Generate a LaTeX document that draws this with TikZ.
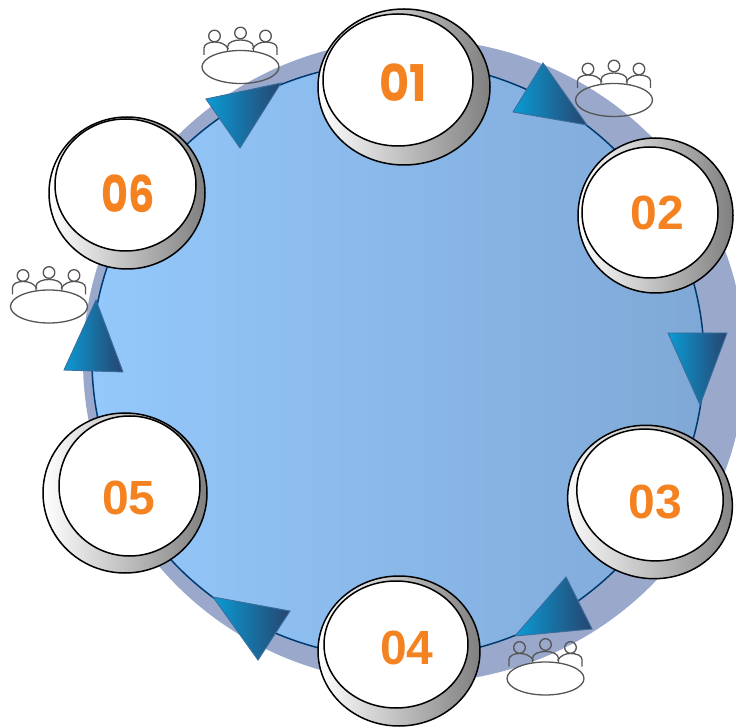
\documentclass[tikz,border=0pt]{standalone}
\usepackage{fontspec}
\setmainfont{Liberation Sans}
\newfontfamily\geofont{Poppins}
\usetikzlibrary{shapes.geometric}
\definecolor{bandblue}{HTML}{9AA9CB}
\definecolor{leftblue}{HTML}{94C8FB}
\definecolor{rightblue}{HTML}{7FA8D6}
\definecolor{ringnavy}{HTML}{003A70}
\definecolor{numorange}{HTML}{F58220}
\definecolor{triA}{HTML}{0A9BD4}
\definecolor{triB}{HTML}{27446F}
\definecolor{triline}{HTML}{3A6E9E}
\definecolor{icongray}{HTML}{555555}
\tikzset{
  rim/.style={draw=black,line width=1.5pt,ellipse,inner sep=0pt,left color=white,right color=black!50},
  face/.style={draw=black,line width=1.5pt,ellipse,inner sep=0pt,fill=white},
  num/.style={text=numorange,font=\bfseries\fontsize{48}{48}\selectfont,inner sep=0pt},
  numgeo/.style={text=numorange,font=\geofont\bfseries\fontsize{46}{46}\selectfont,inner sep=0pt,xscale=0.9,yscale=1.1},
  arrowtri/.style={draw=triline,line width=0.9pt,left color=triA,right color=triB},
  seat/.pic={
    \draw [icongray,line width=1.3pt] (0,0) ellipse (38.5 and 16.5);
    \draw [icongray,line width=1.3pt] (-26,31) circle (5.8);
    \draw [icongray,line width=1.3pt] (0,34) circle (5.8);
    \draw [icongray,line width=1.3pt] (25,31) circle (5.8);
    \draw [icongray,line width=1.3pt] (-36.5,12) -- (-36.5,19) .. controls (-36.5,23) and (-31,25) .. (-26,25) .. controls (-20,25) and (-15,23) .. (-12,18);
    \draw [icongray,line width=1.3pt] (-13,16) -- (-13,20) .. controls (-13,25) and (-6,27) .. (0,27) .. controls (6,27) and (13,25) .. (13,20) -- (13,16);
    \draw [icongray,line width=1.3pt] (12,18) .. controls (15,23) and (20,25) .. (25,25) .. controls (31,25) and (36.5,23) .. (36.5,19) -- (36.5,12);
  }
}
\begin{document}
\begin{tikzpicture}[x=1pt,y=1pt]
\useasboundingbox (0,0) rectangle (736,726);
% ring
\begin{scope}
\clip (0,0) rectangle (736,726);
\fill [bandblue] (414,365) ellipse (331 and 322);
\end{scope}
\path [draw=ringnavy,line width=1.5pt,left color=leftblue,right color=rightblue] (398,366) ellipse (306 and 298);
% triangles
\path [arrowtri] (206,627) -- (281,643) -- (240,578) -- cycle;
\path [arrowtri] (543,663) -- (513,614) -- (587,601) -- cycle;
\path [arrowtri] (668,393) -- (727,393) -- (700,321) -- cycle;
\path [arrowtri] (566,149) -- (515,90) -- (592,97) -- cycle;
\path [arrowtri] (213,129) -- (290,115) -- (258,66) -- cycle;
\path [arrowtri] (96,426) -- (64,356) -- (123,354) -- cycle;
% tables
\pic at (240.5,659) {seat};
\pic at (614,626) {seat};
\pic at (545.5,47.5) {seat};
\pic at (49,419.5) {seat};
% 01
\node [rim,minimum width=172,minimum height=156] (rim01) at (404,639) {};
\node [face,minimum width=150,minimum height=132] (face01) at (398,646) {};
\node [numgeo,xscale=1.12] (num01) at (403,643) {01};
% 02
\node [rim,minimum width=155,minimum height=155] (rim02) at (655.5,510.5) {};
\node [face,minimum width=136,minimum height=131] (face02) at (650,513.5) {};
\node [num] (num02) at (657,513) {02};
% 03
\node [rim,rotate=-18,minimum width=166,minimum height=152] (rim03) at (650,224) {};
\node [face,rotate=-18,minimum width=148,minimum height=130] (face03) at (650,231) {};
\node [num] (num03) at (655,224) {03};
% 04
\node [rim,minimum width=162,minimum height=150] (rim04) at (399,75) {};
\node [face,minimum width=144,minimum height=127] (face04) at (396,81.5) {};
\node [num] (num04) at (407,78) {04};
% 05
\node [rim,minimum width=164,minimum height=160] (rim05) at (125,233) {};
\node [face,minimum width=141,minimum height=140] (face05) at (129.5,240) {};
\node [num] (num05) at (129,228) {05};
% 06
\node [rim,minimum width=156,minimum height=152] (rim06) at (127,533) {};
\node [face,minimum width=141,minimum height=132] (face06) at (125.5,541) {};
\node [numgeo] (num06) at (128,532) {06};
\end{tikzpicture}
\end{document}
